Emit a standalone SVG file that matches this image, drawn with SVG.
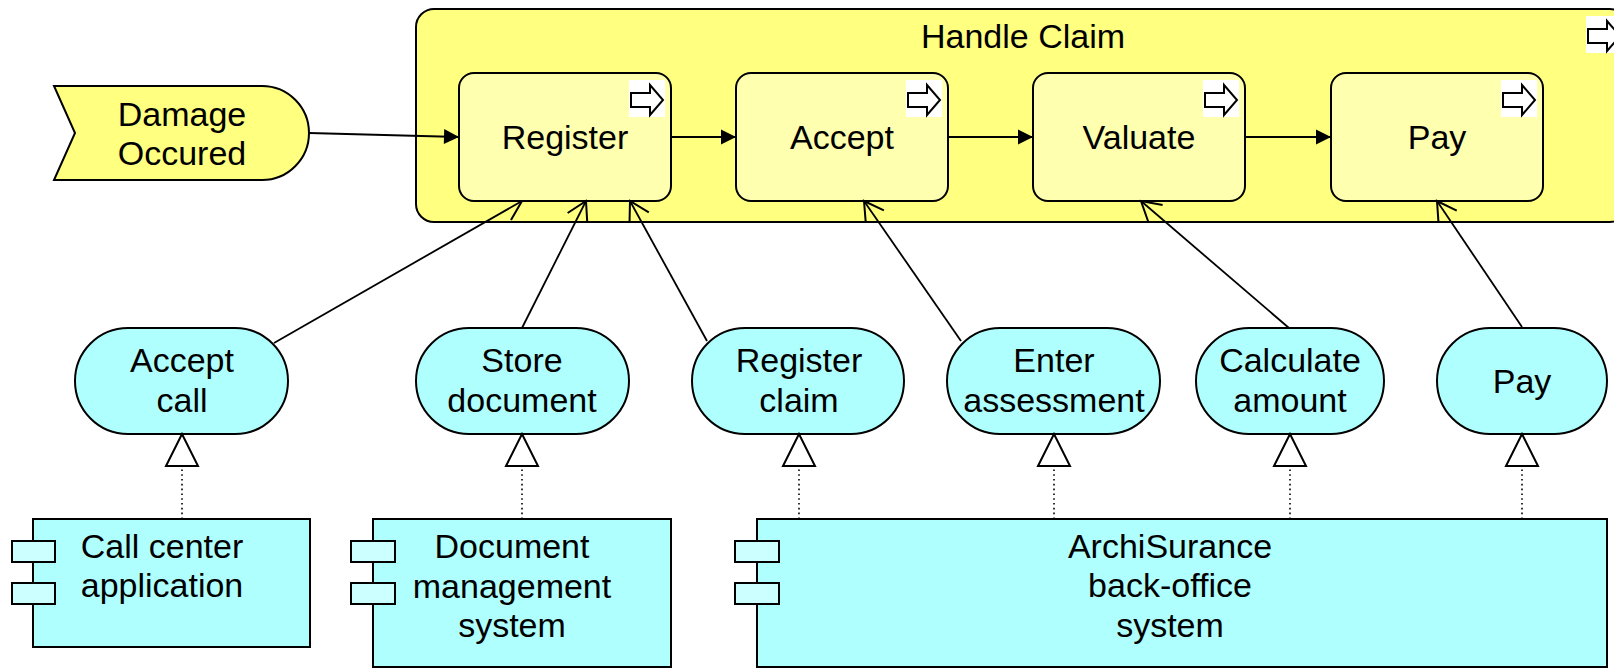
<svg xmlns="http://www.w3.org/2000/svg" width="1614" height="668" viewBox="0 0 1614 668">
<style>
text{font-family:"Liberation Sans",Arial,sans-serif;font-size:34px;fill:#000;text-anchor:middle}
.cont{fill:#ffff80;stroke:#000;stroke-width:2}
.proc{fill:#ffffb0;stroke:#000;stroke-width:2}
.evt{fill:#ffff80;stroke:#000;stroke-width:2}
.svc{fill:#b0ffff;stroke:#000;stroke-width:2}
.comp{fill:#b0ffff;stroke:#000;stroke-width:2}
.tab{fill:#ccffff;stroke:#000;stroke-width:2}
.iconbg{fill:#fff}
.icon{fill:#fff;stroke:#000;stroke-width:2;stroke-linejoin:miter}
.flow{stroke:#000;stroke-width:1.8;fill:none;marker-end:url(#filled)}
.used{stroke:#000;stroke-width:1.8;fill:none;marker-end:url(#open)}
.real{stroke:#000;stroke-width:1.6;fill:none;stroke-dasharray:1.6 3.2;marker-end:url(#hollow)}
</style>
<defs>
<marker id="filled" markerUnits="userSpaceOnUse" markerWidth="16" markerHeight="16" refX="15" refY="7.5" orient="auto" overflow="visible">
<path d="M0,0 L15,7.5 L0,15 Z" fill="#000"/>
</marker>
<marker id="open" markerUnits="userSpaceOnUse" markerWidth="24" markerHeight="24" refX="20" refY="12" orient="auto" overflow="visible">
<path d="M1,1 L20,12 L1,23" fill="none" stroke="#000" stroke-width="2"/>
</marker>
<marker id="hollow" markerUnits="userSpaceOnUse" markerWidth="34" markerHeight="34" refX="32" refY="16" orient="auto" overflow="visible">
<path d="M0,0 L32,16 L0,32 Z" fill="#fff" stroke="#000" stroke-width="2"/>
</marker>
<g id="arrowicon">
<rect class="iconbg" x="0" y="0" width="36" height="37"/>
<polygon class="icon" points="2,13 21,13 21,5 34,20 21,35 21,27 2,27"/>
</g>
</defs>

<g id="handle-claim">
<rect class="cont" x="416" y="9" width="1212" height="213" rx="18"/>
<text x="1023" y="48">Handle Claim</text>
<use href="#arrowicon" x="1586" y="16"/>
</g>

<g id="damage-occured">
<path class="evt" d="M54,86 L262,86 A47,47 0 0 1 262,180 L54,180 L75,133 Z"/>
<text x="182" y="126">Damage</text>
<text x="182" y="165">Occured</text>
</g>

<g id="p-register">
<rect class="proc" x="459" y="73" width="212" height="128" rx="15"/>
<text x="565" y="149">Register</text>
<use href="#arrowicon" x="629" y="80"/>
</g>
<g id="p-accept">
<rect class="proc" x="736" y="73" width="212" height="128" rx="15"/>
<text x="842" y="149">Accept</text>
<use href="#arrowicon" x="906" y="80"/>
</g>
<g id="p-valuate">
<rect class="proc" x="1033" y="73" width="212" height="128" rx="15"/>
<text x="1139" y="149">Valuate</text>
<use href="#arrowicon" x="1203" y="80"/>
</g>
<g id="p-pay">
<rect class="proc" x="1331" y="73" width="212" height="128" rx="15"/>
<text x="1437" y="149">Pay</text>
<use href="#arrowicon" x="1501" y="80"/>
</g>

<g id="s-accept-call">
<rect class="svc" x="75" y="328" width="213" height="106" rx="53"/>
<text x="182" y="372">Accept</text>
<text x="182" y="412">call</text>
</g>
<g id="s-store-document">
<rect class="svc" x="416" y="328" width="213" height="106" rx="53"/>
<text x="522" y="372">Store</text>
<text x="522" y="412">document</text>
</g>
<g id="s-register-claim">
<rect class="svc" x="692" y="328" width="212" height="106" rx="53"/>
<text x="799" y="372">Register</text>
<text x="799" y="412">claim</text>
</g>
<g id="s-enter-assessment">
<rect class="svc" x="947" y="328" width="213" height="106" rx="53"/>
<text x="1054" y="372">Enter</text>
<text x="1054" y="412">assessment</text>
</g>
<g id="s-calculate-amount">
<rect class="svc" x="1196" y="328" width="188" height="106" rx="53"/>
<text x="1290" y="372">Calculate</text>
<text x="1290" y="412">amount</text>
</g>
<g id="s-pay">
<rect class="svc" x="1437" y="328" width="170" height="106" rx="53"/>
<text x="1522" y="393">Pay</text>
</g>

<g id="c-call-center">
<rect class="comp" x="33" y="519" width="277" height="128"/>
<rect class="tab" x="12" y="541" width="43" height="21"/>
<rect class="tab" x="12" y="583" width="43" height="21"/>
<text x="162" y="558">Call center</text>
<text x="162" y="597">application</text>
</g>
<g id="c-document-management">
<rect class="comp" x="373" y="519" width="298" height="148"/>
<rect class="tab" x="351" y="541" width="44" height="21"/>
<rect class="tab" x="351" y="583" width="44" height="21"/>
<text x="512" y="558">Document</text>
<text x="512" y="598">management</text>
<text x="512" y="637">system</text>
</g>
<g id="c-backoffice">
<rect class="comp" x="757" y="519" width="850" height="148"/>
<rect class="tab" x="735" y="541" width="44" height="21"/>
<rect class="tab" x="735" y="583" width="44" height="21"/>
<text x="1170" y="558">ArchiSurance</text>
<text x="1170" y="597">back-office</text>
<text x="1170" y="637">system</text>
</g>

<g id="connectors">
<line class="flow" x1="309" y1="133" x2="459" y2="137"/>
<line class="flow" x1="671" y1="137" x2="736" y2="137"/>
<line class="flow" x1="948" y1="137" x2="1033" y2="137"/>
<line class="flow" x1="1245" y1="137" x2="1331" y2="137"/>

<line class="used" x1="274" y1="343" x2="522" y2="201"/>
<line class="used" x1="522" y1="328" x2="586" y2="201"/>
<line class="used" x1="707" y1="341" x2="630" y2="201"/>
<line class="used" x1="961" y1="341" x2="864" y2="201"/>
<line class="used" x1="1289" y1="328" x2="1141" y2="201"/>
<line class="used" x1="1522" y1="327" x2="1437" y2="201"/>

<line class="real" x1="182" y1="519" x2="182" y2="434"/>
<line class="real" x1="522" y1="519" x2="522" y2="434"/>
<line class="real" x1="799" y1="519" x2="799" y2="434"/>
<line class="real" x1="1054" y1="519" x2="1054" y2="434"/>
<line class="real" x1="1290" y1="519" x2="1290" y2="434"/>
<line class="real" x1="1522" y1="519" x2="1522" y2="434"/>
</g>
</svg>
